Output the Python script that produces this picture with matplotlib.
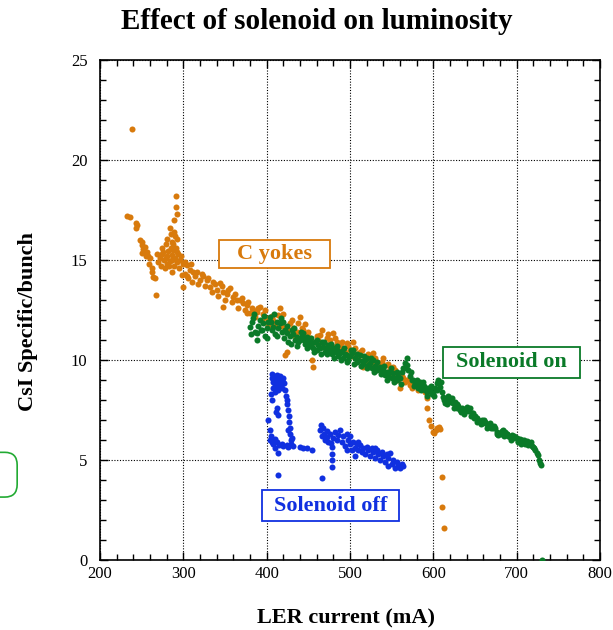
import matplotlib
matplotlib.use('Agg')
import matplotlib.pyplot as plt
from matplotlib.ticker import MultipleLocator
from matplotlib.patches import FancyBboxPatch, Rectangle

plt.rcParams['font.family'] = ['Liberation Serif', 'DejaVu Serif']

# C yokes (orange)
yokes_x = [239, 233, 236, 243, 245, 243, 291, 291, 292, 289, 289, 281, 292, 285, 279,
           248, 250, 254, 256, 250, 252, 258, 260, 262, 266, 264, 267, 270, 272, 275,
           277, 280, 282, 284, 286, 288, 290, 293, 294, 296, 278, 283, 287, 274, 288, 291,
           300, 304, 308, 298, 300, 302, 306, 312, 316, 320, 324, 328, 332, 336, 340,
           344, 348, 352, 356, 360, 348, 364, 368, 372, 376, 376, 380, 384, 386, 390, 392,
           396, 400, 404, 408, 414, 416, 420, 424, 422, 426, 428, 432, 436, 438, 440, 444,
           448, 452, 454, 456, 458, 462, 464, 468, 472, 476, 480, 484, 488, 492, 496, 500,
           504, 508, 512, 516, 520, 524, 528, 532, 536, 540, 544, 548, 552, 556, 560, 560,
           564, 568, 572, 576, 580, 584, 588, 592, 593, 595, 597, 600, 601, 603, 604, 607,
           608, 611, 611, 613,
           302, 305, 309, 311, 314, 318, 322, 326, 330, 334, 338, 342, 346, 350, 354, 358,
           362, 366, 370, 374, 378, 251, 255, 259, 263, 269, 273, 276, 279, 281, 285, 287,
           289, 292, 295, 297, 284, 286, 290,
           382, 388, 394, 398, 402, 406, 410, 418, 430, 434, 442, 446, 450, 460, 466, 470,
           474, 478, 482, 486, 490, 494, 498, 502, 506, 510, 514, 518, 522, 526, 530, 534,
           538, 542, 546, 550, 554, 558, 562, 566, 570, 574, 578, 582, 586, 590]
yokes_y = [21.55, 17.2, 17.15, 16.85, 16.75, 16.6, 18.2, 17.65, 17.3, 17.0, 16.4, 16.05, 16.05, 16.3, 15.8,
           16.0, 15.75, 15.67, 15.4, 15.35, 15.55, 15.2, 15.1, 14.6, 14.1, 14.15, 13.25, 14.9, 15.1, 15.3,
           15.0, 15.2, 15.45, 14.95, 15.25, 15.5, 15.1, 14.9, 15.3, 15.0, 14.6, 14.7, 14.4, 15.6, 15.8, 15.6,
           14.8, 14.75, 14.5, 14.25, 13.67, 14.3, 14.1, 14.4, 14.4, 14.0, 14.2, 14.0, 13.67, 13.9, 13.5,
           13.85, 13.4, 13.3, 13.6, 13.17, 12.67, 13.0, 13.0, 12.83, 12.75, 12.33, 12.33, 12.5, 12.17, 12.6, 12.67,
           12.3, 12.1, 11.9, 12.0, 12.25, 12.58, 12.3, 10.42, 10.25, 11.5, 11.83, 11.6, 11.4, 11.83, 12.17, 11.5,
           11.3, 11.1, 10.0, 9.67, 10.9, 11.0, 11.25, 10.67, 11.1, 11.0, 11.33, 10.92, 10.7, 10.6, 10.83, 10.5,
           10.92, 10.3, 10.4, 9.67, 10.2, 10.0, 10.33, 9.9, 9.8, 10.1, 9.75, 9.5, 9.67, 9.17, 9.3, 8.6,
           9.1, 9.0, 8.75, 8.83, 8.7, 8.67, 8.67, 8.08, 7.62, 7.0, 6.7, 6.42, 6.33, 6.5, 6.58, 6.67,
           6.55, 4.13, 2.63, 1.62,
           14.9, 14.2, 14.8, 13.9, 14.2, 13.8, 14.3, 13.7, 14.1, 13.4, 13.8, 13.2, 13.7, 13.0, 13.5, 12.9,
           13.3, 12.6, 13.1, 12.5, 12.9, 15.9, 15.2, 14.8, 14.4, 15.3, 14.7, 15.4, 15.1, 14.8, 15.6, 15.0,
           14.7, 15.4, 14.6, 15.2, 16.6, 15.9, 16.2,
           12.6, 12.4, 12.0, 12.5, 11.7, 12.2, 11.8, 11.7, 12.0, 11.2, 11.6, 11.8, 11.4, 11.2, 11.5, 10.8,
           11.3, 10.7, 11.1, 10.5, 10.9, 10.4, 10.7, 10.2, 10.6, 10.1, 10.5, 9.9, 10.3, 9.8, 10.1, 9.6,
           9.9, 9.4, 9.8, 9.3, 9.5, 9.0, 9.2, 8.9, 9.0, 8.6, 8.9, 8.5, 8.8, 8.4]

# Solenoid on (green)
on_x = [380, 382, 384, 386, 388, 390, 392, 394, 396, 398, 400, 402, 404, 406, 408, 410,
        412, 414, 416, 418, 420, 422, 424, 426, 428, 430, 432, 434, 436, 438, 440, 442,
        444, 446, 448, 450, 452, 454, 456, 458, 460, 462, 464, 466, 468, 470, 472, 474,
        476, 478, 480, 482, 484, 486, 488, 490, 492, 494, 496, 498, 500, 502, 504, 506,
        508, 510, 512, 514, 516, 518, 520, 522, 524, 526, 528, 530, 532, 534, 536, 538,
        540, 542, 544, 546, 548, 550, 552, 554, 556, 558, 560, 562, 564, 566, 568, 570,
        572, 574, 576, 578, 580, 582, 584, 586, 588, 590, 592, 594, 596, 598, 600, 602,
        604, 606, 608, 610, 612, 614, 616, 618, 620, 622, 624, 626, 628, 630, 632, 634,
        636, 638, 640, 642, 644, 646, 648, 650, 652, 654, 656, 658, 660, 662, 664, 666,
        668, 670, 672, 674, 676, 678, 680, 682, 684, 686, 688, 690, 692, 694, 696, 698,
        700, 702, 704, 706, 708, 710, 712, 714, 716, 718, 720, 722, 724, 726, 727, 728,
        729, 730,
        381, 385, 389, 393, 397, 401, 405, 409, 413, 417, 421, 425, 429, 433, 437, 441,
        445, 449, 453, 457, 461, 465, 469, 473, 477, 481, 485, 489, 493, 497, 501, 505,
        509, 513, 517, 521, 525, 529, 533, 537, 541, 545, 549, 553, 557, 561, 565, 569,
        573, 577, 581, 585, 589, 593, 597, 601, 605, 609, 613, 617, 621, 625, 629, 633,
        637, 641, 645, 649, 653, 657, 661, 665, 669, 673, 677, 681, 685, 689, 693, 697,
        701, 705, 709, 713, 717, 721]
on_y = [11.67, 11.9, 12.1, 11.4, 11.33, 11.7, 12.0, 11.5, 11.83, 11.2, 11.6, 11.9, 12.17, 11.5, 11.67, 11.3,
        11.9, 11.6, 11.83, 11.4, 11.92, 11.5, 11.33, 10.92, 11.2, 11.5, 11.3, 11.0, 11.17, 10.9, 11.0, 11.2,
        11.33, 10.8, 11.17, 10.9, 10.7, 10.83, 10.6, 10.9, 10.5, 10.75, 10.6, 10.9, 10.67, 10.4, 10.6, 10.75,
        10.5, 10.3, 10.58, 10.4, 10.5, 10.2, 10.33, 10.45, 10.1, 10.3, 10.25, 10.0, 10.2, 10.35, 10.5, 10.1,
        9.9, 10.0, 10.25, 9.95, 9.8, 10.0, 10.08, 9.75, 9.85, 9.6, 10.0, 9.7, 9.5, 9.6, 9.67, 9.4,
        9.5, 9.25, 9.42, 9.2, 9.4, 9.1, 9.33, 9.1, 9.0, 9.2, 9.1, 9.4, 9.6, 9.85, 9.75, 9.5,
        9.2, 9.0, 9.0, 8.8, 8.7, 8.6, 8.92, 8.75, 8.92, 8.5, 8.4, 8.6, 8.5, 8.3, 8.33, 8.6,
        8.83, 9.0, 8.67, 8.4, 8.17, 7.83, 8.0, 8.2, 8.1, 8.08, 7.83, 7.9, 7.6, 7.7, 7.5, 7.6,
        7.4, 7.55, 7.65, 7.45, 7.58, 7.35, 7.33, 7.2, 7.1, 7.0, 6.92, 7.0, 6.85, 6.9, 6.8, 6.75,
        6.85, 6.7, 6.58, 6.6, 6.4, 6.25, 6.35, 6.45, 6.5, 6.4, 6.3, 6.2, 6.17, 6.25, 6.1, 6.15,
        6.08, 5.95, 6.05, 6.0, 5.92, 5.8, 5.95, 5.9, 5.83, 5.7, 5.67, 5.5, 5.35, 5.25, 5.0, 4.83,
        4.75, 0.0,
        11.3, 12.3, 11.0, 11.5, 12.2, 11.1, 11.9, 12.3, 11.2, 12.1, 11.1, 11.7, 10.8, 11.6, 10.7, 11.4,
        11.0, 10.6, 11.1, 10.4, 11.0, 10.3, 10.9, 10.3, 10.8, 10.1, 10.7, 10.0, 10.6, 9.9, 10.5, 9.8,
        10.3, 9.7, 10.2, 9.6, 10.1, 9.4, 9.9, 9.3, 9.7, 9.0, 9.6, 8.9, 9.4, 8.8, 9.6, 10.1,
        9.4, 8.7, 9.0, 8.5, 8.7, 8.2, 8.7, 8.2, 8.5, 8.9, 8.0, 7.8, 7.9, 7.6, 7.8, 7.4,
        7.3, 7.5, 7.2, 7.1, 6.9, 6.8, 7.0, 6.6, 6.6, 6.7, 6.3, 6.3, 6.2, 6.3, 6.0, 6.2,
        5.9, 5.8, 6.0, 5.75, 5.9, 5.6]

# Solenoid off (blue)
off_x = [406, 407, 408, 408, 409, 410, 410, 411, 412, 413, 414, 414, 415, 416, 417, 418,
         419, 420, 421, 422, 423, 424, 405, 406, 412, 411, 414,
         425, 426, 427, 427, 428, 428, 429, 429, 430, 426, 410,
         402, 404, 404, 405, 406, 408, 410, 412, 415, 418, 420, 424, 426, 432, 440, 444,
         448, 454, 414, 414, 466,
         464, 465, 466, 468, 469, 470, 472, 473, 474, 476, 477, 478, 478, 478, 478, 480,
         482, 484, 486, 488, 490, 492, 494, 496, 498, 500, 500, 502, 504, 506, 506, 508,
         510, 512, 514, 516, 518, 520, 522, 524, 526, 528, 530, 532, 534, 536, 538, 540,
         542, 544, 546, 546, 548, 550, 552, 554, 556, 558, 560, 562, 564, 510, 496, 530]
off_y = [9.3, 9.1, 8.9, 8.6, 9.2, 8.8, 8.4, 9.0, 9.25, 8.7, 9.1, 8.5, 8.9, 9.2, 8.8, 9.0,
         8.6, 9.1, 8.85, 8.5, 8.2, 8.0, 8.3, 8.0, 7.6, 7.4, 7.25,
         7.8, 7.5, 7.2, 6.9, 6.6, 6.3, 6.0, 5.8, 6.1, 6.5, 5.6,
         7.0, 6.5, 6.0, 6.2, 5.9, 5.8, 6.05, 5.9, 5.75, 5.8, 5.7, 5.75, 5.65, 5.7, 5.67, 5.6,
         5.58, 5.5, 5.33, 4.25, 4.08,
         6.5, 6.75, 6.2, 6.6, 6.3, 6.0, 6.45, 6.15, 5.9, 6.3, 5.85, 5.67, 5.3, 5.0, 4.67, 6.1,
         6.4, 6.0, 6.25, 6.5, 5.9, 6.2, 5.7, 6.3, 6.0, 5.8, 6.2, 5.5, 5.9, 5.6, 5.2, 5.8,
         5.5, 5.75, 5.4, 5.6, 5.3, 5.65, 5.5, 5.2, 5.6, 5.4, 5.1, 5.5, 5.3, 5.0, 5.4, 5.2,
         4.9, 5.3, 4.7, 5.1, 5.35, 4.8, 5.0, 4.6, 4.9, 4.75, 4.6, 4.8, 4.7, 5.9, 5.5, 5.6]

orange = '#d87a0c'
green = '#0a7a28'
blue = '#1030e0'

fig = plt.figure(figsize=(6.13, 6.30), dpi=100)
ax = fig.add_axes([0.1631, 0.1111, 0.8157, 0.7937])

ax.scatter(yokes_x, yokes_y, s=19, color=orange, linewidths=0, zorder=3)
ax.scatter(on_x, on_y, s=19, color=green, linewidths=0, zorder=4)
ax.scatter(off_x, off_y, s=19, color=blue, linewidths=0, zorder=4)

ax.set_xlim(200, 800)
ax.set_ylim(0, 25)
ax.xaxis.set_major_locator(MultipleLocator(100))
ax.xaxis.set_minor_locator(MultipleLocator(20))
ax.yaxis.set_major_locator(MultipleLocator(5))
ax.yaxis.set_minor_locator(MultipleLocator(1))
ax.tick_params(which='both', direction='in', top=True, right=True, labelsize=12, width=1)
ax.tick_params(which='major', length=6)
ax.tick_params(which='minor', length=4)
ax.tick_params(axis='x', pad=4)
ax.tick_params(axis='y', pad=9)
for sp in ax.spines.values():
    sp.set_linewidth(1.2)
ax.grid(True, which='major', color='black', linestyle=(0, (1, 1.5)), linewidth=0.8)
ax.set_axisbelow(True)

fig.text(0.565, 0.019, 'LER current (mA)', fontsize=16, fontweight='bold', ha='center', va='center')
fig.text(0.046, 0.49, 'CsI Specific/bunch', fontsize=16, fontweight='bold', ha='center', va='center',
         rotation=90)
fig.text(0.517, 0.966, 'Effect of solenoid on luminosity', fontsize=21, fontweight='bold',
         ha='center', va='center')

# label boxes
labels = [('C yokes', orange, 342.8, 14.6, 133.2, 1.4, 409.4, 15.3),
          ('Solenoid on', green, 611.6, 9.1, 164.4, 1.55, 693.8, 9.875),
          ('Solenoid off', blue, 394.4, 1.95, 164.4, 1.55, 476.6, 2.725)]
for txt, col, bx, by, bw, bh, tx, ty in labels:
    ax.add_patch(Rectangle((bx, by), bw, bh, fc='white', ec=col, lw=1.3, zorder=5))
    ax.text(tx, ty, txt, color=col, fontsize=16, fontweight='bold', ha='center', va='center', zorder=6)

# cut-off rounded box at the left edge
fig.patches.append(FancyBboxPatch((-0.06, 0.211), 0.088, 0.071,
                                  boxstyle='round,pad=0.0,rounding_size=0.02',
                                  transform=fig.transFigure, fc='none', ec='#22aa33', lw=1.2))

fig.savefig('out.png', dpi=100)
